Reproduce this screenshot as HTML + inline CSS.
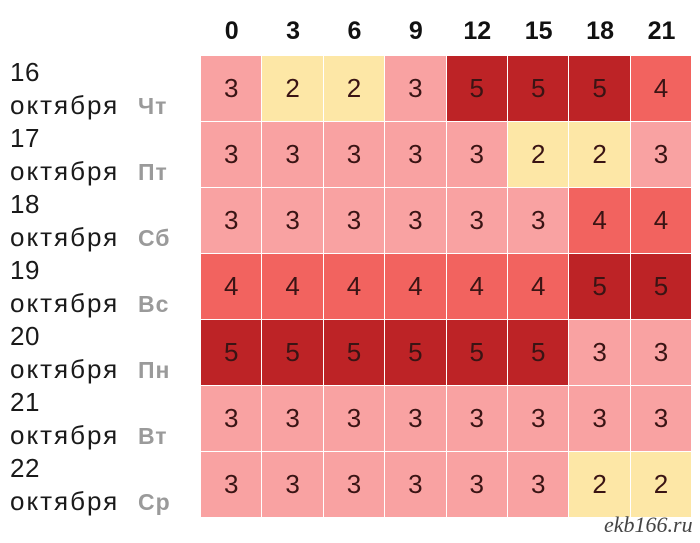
<!DOCTYPE html>
<html><head><meta charset="utf-8"><style>
body{margin:0;width:700px;height:543px;background:#fff;position:relative;overflow:hidden;font-family:"Liberation Sans","DejaVu Sans",sans-serif}
.h{position:absolute;top:17px;width:61.4px;text-align:center;font-weight:bold;font-size:25px;color:#111}
.c{position:absolute;width:60.4px;height:65px;text-align:center;line-height:65px;font-size:26px;color:#3a1414}
.n,.m{position:absolute;left:10px;font-size:26px;color:#1a1a1a;line-height:1;letter-spacing:2px}
.n{letter-spacing:0.5px}
.d{position:absolute;left:138px;font-size:23px;font-weight:bold;color:#9a9a9a;line-height:1;letter-spacing:1px}
.w{position:absolute;left:604px;top:512px;font-family:"Liberation Serif",serif;font-style:italic;font-size:22px;color:#444}
</style></head><body>
<div id="g"></div>
<div class="w">ekb166.ru</div>
<script>
var hrs=[0,3,6,9,12,15,18,21];
var data=[[3,2,2,3,5,5,5,4],[3,3,3,3,3,2,2,3],[3,3,3,3,3,3,4,4],[4,4,4,4,4,4,5,5],[5,5,5,5,5,5,3,3],[3,3,3,3,3,3,3,3],[3,3,3,3,3,3,2,2]];
var days=["Чт","Пт","Сб","Вс","Пн","Вт","Ср"];
var col={2:"#fde7a6",3:"#f9a2a2",4:"#f2635f",5:"#bd2326"};
var h="";
hrs.forEach(function(v,i){h+='<div class="h" style="left:'+(201+i*61.4)+'px">'+v+'</div>';});
data.forEach(function(r,j){
 var t=56+j*66;
 h+='<div class="n" style="top:'+(t+3)+'px">'+(16+j)+'</div>';
 h+='<div class="m" style="top:'+(t+36)+'px">октября</div>';
 h+='<div class="d" style="top:'+(t+39)+'px">'+days[j]+'</div>';
 r.forEach(function(v,i){h+='<div class="c" style="left:'+(201+i*61.4)+'px;top:'+t+'px;background:'+col[v]+'">'+v+'</div>';});
});
document.getElementById("g").innerHTML=h;
</script>
</body></html>
